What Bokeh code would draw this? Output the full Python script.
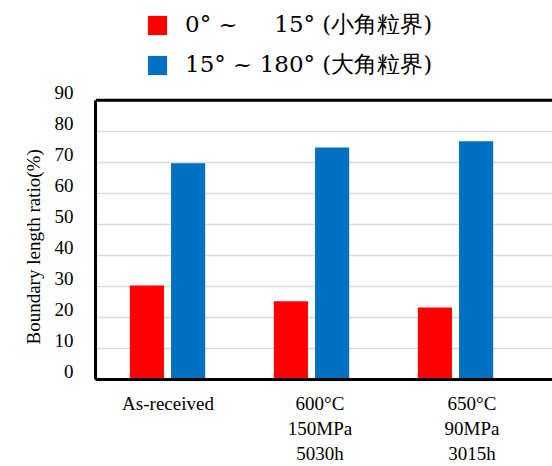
import numpy as np
from bokeh.plotting import figure
from bokeh.models import (Range1d, LinearAxis, FixedTicker, Span, Legend,
                          LegendItem, ColumnDataSource, Title)
from bokeh.transform import dodge
from bokeh.embed import file_html
from bokeh.resources import INLINE
from bokeh.core.properties import value

# ---- data ----
categories = ["As-received", "600°C\n150MPa\n5030h", "650°C\n90MPa\n3015h"]
low_angle = [30.3, 25.2, 23.2]     # 0° ~ 15° (小角粒界)
high_angle = [69.7, 74.8, 76.8]    # 15° ~ 180° (大角粒界)
series_labels = ["0° ~ \u2007\u200715° (小角粒界)", "15° ~ 180° (大角粒界)"]
y_title = "Boundary length ratio(%)"
y_ticks = [0, 10, 20, 30, 40, 50, 60, 70, 80, 90]
y_max = 90
colors = ["#FF0000", "#0070C0"]

# ---- geometry (styling) ----
W, H = 552, 466
ML, MR, MT, MB = 95, 0, 0, 86
frame_h = H - MT - MB
frame_w = W - ML - MR
px_per_unit = 280 / y_max
y_end = frame_h / px_per_unit
label_shift = 7.8 / px_per_unit                  # tick labels sit a bit above grid lines

xs = np.arange(1, len(categories) + 1)
group_px = 144.0
x_start = 0.5
x_end = x_start + frame_w / group_px
lab_px = 152.0
lab_start = 1 - 72.5 / lab_px
lab_end = lab_start + frame_w / lab_px

p = figure(width=W, height=H, output_backend="svg", toolbar_location=None,
           x_range=Range1d(x_start, x_end), y_range=Range1d(0, y_end),
           x_axis_location=None, y_axis_location=None,
           min_border_left=ML, min_border_right=MR, min_border_top=MT,
           min_border_bottom=MB, outline_line_color=None,
           background_fill_color="white", border_fill_color="white")

p.extra_y_ranges = {"ylab": Range1d(-label_shift, y_end - label_shift)}
p.extra_x_ranges = {"xlab": Range1d(lab_start, lab_end)}

p.xgrid.visible = False
p.ygrid.ticker = FixedTicker(ticks=y_ticks)
p.ygrid.grid_line_color = "#d9d9d9"
p.ygrid.grid_line_width = 1.5

source = ColumnDataSource(dict(x=xs, low=low_angle, high=high_angle))
r1 = p.vbar(x=dodge("x", -0.143), top="low", width=0.237, source=source,
            fill_color=colors[0], line_color=None)
r2 = p.vbar(x=dodge("x", 0.143), top="high", width=0.237, source=source,
            fill_color=colors[1], line_color=None)

# left border line (0..90)
border_axis = LinearAxis(bounds=(0, y_max), ticker=FixedTicker(ticks=[]),
                         axis_line_color="black", axis_line_width=3,
                         major_tick_line_color=None, minor_tick_line_color=None,
                         major_tick_out=0, major_tick_in=0,
                         major_label_text_font_size="0px", major_label_standoff=0)
p.add_layout(border_axis, "left")

ylab_axis = LinearAxis(y_range_name="ylab", ticker=FixedTicker(ticks=y_ticks),
                       axis_line_color=None, major_tick_line_color=None,
                       minor_tick_line_color=None, major_tick_out=0, major_tick_in=0,
                       major_label_standoff=22,
                       major_label_text_font="Liberation Serif",
                       major_label_text_font_size="19px",
                       major_label_text_color="black")
p.add_layout(ylab_axis, "left")

p.add_layout(Title(text=y_title, align="left", offset=35, standoff=16,
                   vertical_align="bottom",
                   text_font="Liberation Serif", text_font_size="19px",
                   text_font_style="normal", text_color="black"), "left")

xlab_axis = LinearAxis(x_range_name="xlab", ticker=FixedTicker(ticks=list(xs)),
                       major_label_overrides={int(i): c for i, c in zip(xs, categories)},
                       axis_line_color="black", axis_line_width=3,
                       major_tick_line_color=None, minor_tick_line_color=None,
                       major_tick_out=0, major_tick_in=0,
                       major_label_standoff=13,
                       major_label_text_font="Liberation Serif",
                       major_label_text_font_size="19px",
                       major_label_text_line_height=1.2,
                       major_label_text_color="black")
p.add_layout(xlab_axis, "below")

# top border line at y=90
p.add_layout(Span(location=y_max, dimension="width", line_color="black", line_width=3))

legend = Legend(items=[LegendItem(label=value(series_labels[0]), renderers=[r1]),
                       LegendItem(label=value(series_labels[1]), renderers=[r2])],
                location=(50, 299), orientation="vertical",
                glyph_width=24, glyph_height=24, spacing=9, padding=0, margin=0,
                label_standoff=16, label_text_font="DejaVu Serif",
                label_text_font_size="23px", label_text_color="black",
                border_line_color=None, background_fill_alpha=0)
p.add_layout(legend)

open("out.html", "w").write(file_html(p, INLINE))
